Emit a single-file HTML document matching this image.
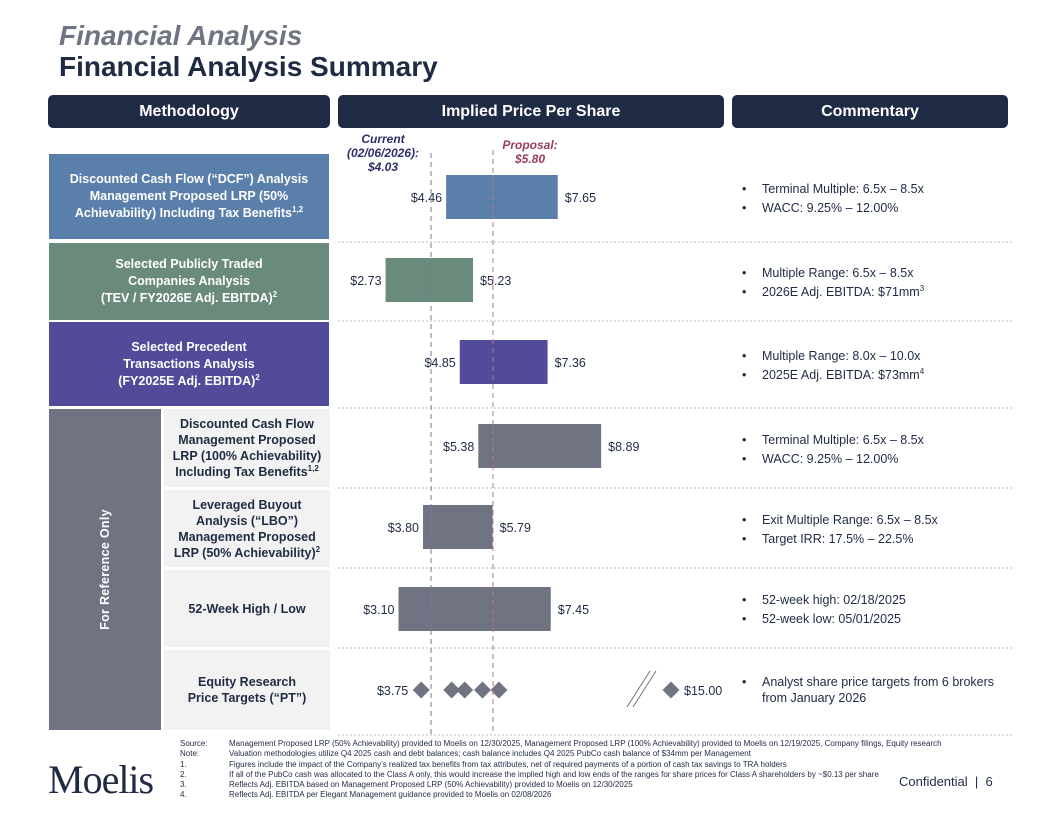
<!DOCTYPE html>
<html><head><meta charset="utf-8">
<style>
*{margin:0;padding:0;box-sizing:border-box}
body{width:1056px;height:816px;background:#fff;position:relative;overflow:hidden;font-family:"Liberation Sans",Arial,sans-serif;color:#1f2a44}
.abs{position:absolute}
.hdr{position:absolute;top:95px;height:33px;background:#1f2a44;border-radius:5px;color:#fff;font-weight:bold;font-size:16px;display:flex;align-items:center;justify-content:center}
.box{position:absolute;color:#fff;font-weight:bold;font-size:12.5px;line-height:17px;text-align:center;display:flex;align-items:center;justify-content:center}
.sub{position:absolute;left:164px;width:166px;background:#f2f2f2;color:#1f2a44;font-weight:bold;font-size:12.5px;line-height:16px;text-align:center;display:flex;align-items:center;justify-content:center}
sup{font-size:8px;line-height:0;vertical-align:super}
.com{position:absolute;left:742px;font-size:12.5px;line-height:19px;color:#1f2a44}
.com div{padding-left:20px;position:relative}
.com div:before{content:"•";position:absolute;left:0}
.fn{position:absolute;left:180px;font-size:8px;line-height:10.3px;color:#1f2a44}
.fn td{padding:0;white-space:nowrap}
</style></head><body>
<div class="abs" style="left:59px;top:20px;font-size:28px;font-style:italic;font-weight:bold;color:#6f7482">Financial Analysis</div>
<div class="abs" style="left:59px;top:51px;font-size:28px;font-weight:bold;color:#1f2a44">Financial Analysis Summary</div>
<div class="hdr" style="left:48px;width:282px">Methodology</div>
<div class="hdr" style="left:338px;width:386px">Implied Price Per Share</div>
<div class="hdr" style="left:732px;width:276px">Commentary</div>

<div class="box" style="left:49px;top:154px;width:280px;height:85px;background:#5a7fab"><div>Discounted Cash Flow (“DCF”) Analysis<br>Management Proposed LRP (50%<br>Achievability) Including Tax Benefits<sup>1,2</sup></div></div>
<div class="box" style="left:49px;top:243px;width:280px;height:77px;background:#6a8a7c"><div>Selected Publicly Traded<br>Companies Analysis<br>(TEV / FY2026E Adj. EBITDA)<sup>2</sup></div></div>
<div class="box" style="left:49px;top:322px;width:280px;height:84px;background:#524b9a"><div>Selected Precedent<br>Transactions Analysis<br>(FY2025E Adj. EBITDA)<sup>2</sup></div></div>
<div class="box" style="left:49px;top:409px;width:112px;height:321px;background:#707482"><div style="transform:rotate(-90deg);white-space:nowrap;font-size:12.5px;letter-spacing:0.3px">For Reference Only</div></div>
<div class="sub" style="top:409px;height:78px"><div>Discounted Cash Flow<br>Management Proposed<br>LRP (100% Achievability)<br>Including Tax Benefits<sup>1,2</sup></div></div>
<div class="sub" style="top:490px;height:77px"><div>Leveraged Buyout<br>Analysis (“LBO”)<br>Management Proposed<br>LRP (50% Achievability)<sup>2</sup></div></div>
<div class="sub" style="top:570px;height:77px"><div>52-Week High / Low</div></div>
<div class="sub" style="top:650px;height:80px"><div>Equity Research<br>Price Targets (“PT”)</div></div>

<svg id="chart" class="abs" style="left:0;top:0" width="1056" height="816"></svg>

<div class="com" style="top:180px"><div>Terminal Multiple: 6.5x – 8.5x</div><div>WACC: 9.25% – 12.00%</div></div>
<div class="com" style="top:264px"><div>Multiple Range: 6.5x – 8.5x</div><div>2026E Adj. EBITDA: $71mm<sup>3</sup></div></div>
<div class="com" style="top:347px"><div>Multiple Range: 8.0x – 10.0x</div><div>2025E Adj. EBITDA: $73mm<sup>4</sup></div></div>
<div class="com" style="top:431px"><div>Terminal Multiple: 6.5x – 8.5x</div><div>WACC: 9.25% – 12.00%</div></div>
<div class="com" style="top:511px"><div>Exit Multiple Range: 6.5x – 8.5x</div><div>Target IRR: 17.5% – 22.5%</div></div>
<div class="com" style="top:591px"><div>52-week high: 02/18/2025</div><div>52-week low: 05/01/2025</div></div>
<div class="com" style="top:674px;line-height:16px"><div>Analyst share price targets from 6 brokers<br>from January 2026</div></div>

<div class="abs" style="left:338px;top:132px;width:90px;text-align:center;font-size:12px;font-style:italic;font-weight:bold;line-height:14px;color:#2e2f6a">Current<br>(02/06/2026):<br>$4.03</div>
<div class="abs" style="left:490px;top:138px;width:80px;text-align:center;font-size:12px;font-style:italic;font-weight:bold;line-height:14px;color:#9a3d5c">Proposal:<br>$5.80</div>

<div class="abs" style="left:48px;top:756px;font-family:'Liberation Serif',serif;font-size:40px;color:#1f2a44;letter-spacing:-1px">Moelis</div>
<div class="abs" style="left:899px;top:774px;font-size:13px;color:#1f2a44">Confidential &nbsp;| &nbsp;6</div>
<table class="fn" style="top:739px;border-collapse:collapse">
<tr><td style="width:49px">Source:</td><td>Management Proposed LRP (50% Achievability) provided to Moelis on 12/30/2025, Management Proposed LRP (100% Achievability) provided to Moelis on 12/19/2025, Company filings, Equity research</td></tr>
<tr><td>Note:</td><td>Valuation methodologies utilize Q4 2025 cash and debt balances; cash balance includes Q4 2025 PubCo cash balance of $34mm per Management</td></tr>
<tr><td>1.</td><td>Figures include the impact of the Company’s realized tax benefits from tax attributes, net of required payments of a portion of cash tax savings to TRA holders</td></tr>
<tr><td>2.</td><td>If all of the PubCo cash was allocated to the Class A only, this would increase the implied high and low ends of the ranges for share prices for Class A shareholders by ~$0.13 per share</td></tr>
<tr><td>3.</td><td>Reflects Adj. EBITDA based on Management Proposed LRP (50% Achievability) provided to Moelis on 12/30/2025</td></tr>
<tr><td>4.</td><td>Reflects Adj. EBITDA per Elegant Management guidance provided to Moelis on 02/08/2026</td></tr>
</table>

<script>
const categories = ["DCF 50%","Trading Comps","Precedents","DCF 100%","LBO","52-Week","Research"];
const lows  = [4.46, 2.73, 4.85, 5.38, 3.80, 3.10];
const highs = [7.65, 5.23, 7.36, 8.89, 5.79, 7.45];
const targets = [3.75, 4.62, 4.99, 5.50, 5.97];
const outlierTarget = 15.00;
const currentPrice = 4.03;
const proposalPrice = 5.80;

const NS = "http://www.w3.org/2000/svg";
const svg = document.getElementById("chart");
const colors = ["#5a7fab","#6a8a7c","#524b9a","#707482","#707482","#707482"];
const rowCenters = [197,280,362,446,527,609,690];
const separators = [242,321,408,488,568,648,735];
function x(v){ return 290 + 35*v; }
function mk(tag, attrs){ const e=document.createElementNS(NS,tag); for(const k in attrs) e.setAttribute(k,attrs[k]); svg.appendChild(e); return e; }
function txt(s, xx, yy, anchor){ const t=mk("text",{x:xx,y:yy,"text-anchor":anchor,"font-size":"12.5","fill":"#1f2a44","font-family":"Liberation Sans, Arial, sans-serif"}); t.textContent=s; return t; }

separators.forEach((y,i)=>{
  const l=mk("line",{x1:338,x2:1012,y1:y,y2:y,stroke:"#b8b8b8","stroke-width":1,"stroke-dasharray":"2,2"});
  
  
});
lows.forEach((lo,i)=>{
  const hi=highs[i], cy=rowCenters[i];
  const r=mk("rect",{x:x(lo),y:cy-22,width:x(hi)-x(lo),height:44,fill:colors[i]});
  
  
  const a=txt("$"+lo.toFixed(2), x(lo)-4, cy+5, "end");
  
  
  const b=txt("$"+hi.toFixed(2), x(hi)+7, cy+5, "start");
  
  
});
const ry=rowCenters[6];
function diamond(cx){ return mk("rect",{x:cx-6,y:ry-6,width:12,height:12,fill:"#707482",transform:`rotate(45 ${cx} ${ry})`}); }
targets.forEach(v=>{
  const d=diamond(x(v));
  
  
});
const od=diamond(671);


const lt=txt("$"+targets[0].toFixed(2), x(targets[0])-13, ry+5, "end");


const ht=txt("$"+outlierTarget.toFixed(2), 684, ry+5, "start");


[[620,643],[626,649]].forEach(p=>{
  const b=mk("line",{x1:p[1]+7,y1:671,x2:p[0]+7,y2:707,stroke:"#707482","stroke-width":1});
  
  
});
const cl=mk("line",{x1:x(currentPrice),x2:x(currentPrice),y1:153,y2:735,stroke:"#7a77a0","stroke-width":1,"stroke-dasharray":"5,4"});


const pl=mk("line",{x1:x(proposalPrice),x2:x(proposalPrice),y1:150,y2:735,stroke:"#b07a8a","stroke-width":1,"stroke-dasharray":"5,4"});


</script>
</body></html>
